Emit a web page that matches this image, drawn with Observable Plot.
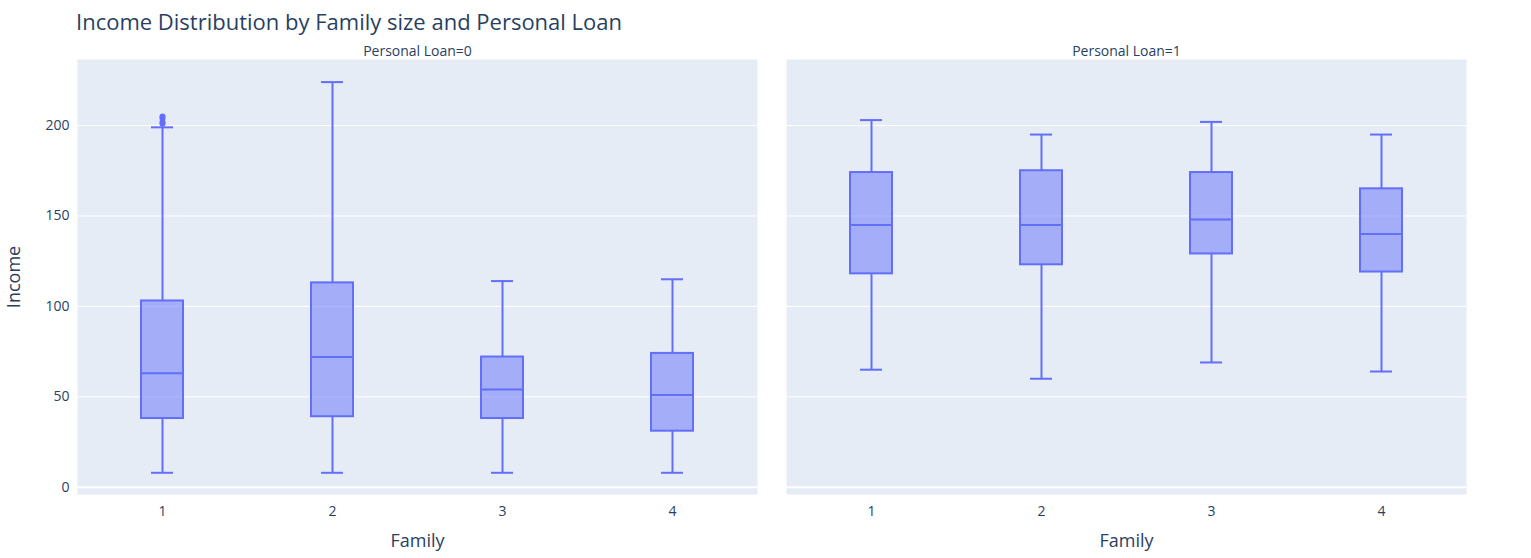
<!DOCTYPE html>
<html><head><meta charset="utf-8">
<script src="https://cdn.jsdelivr.net/npm/d3@7"></script>
<script src="https://cdn.jsdelivr.net/npm/@observablehq/plot@0.6"></script>
<style>
body{margin:0;background:#fff;font-family:"Open Sans",sans-serif}
#wrap{position:relative;width:1531px;height:558px}
#title{position:absolute;left:76px;top:6px;font-size:22px;color:#2a3f5f}
</style></head><body>
<div id="wrap"><div id="title">Income Distribution by Family size and Personal Loan</div></div>
<script>
const families = [1,2,3,4];
const loans = [0,1];
const stats0 = [[8,38,63,103,199],[8,39,72,113,224],[8,38,54,72,114],[8,31,51,74,115]];
const stats1 = [[65,118,145,174,203],[60,123,145,175,195],[69,129,148,174,202],[64,119,140,165,195]];
const outliers = [{loan:0,family:1,v:201},{loan:0,family:1,v:202},{loan:0,family:1,v:204},{loan:0,family:1,v:205}];
const yTicks = [0,50,100,150,200];

const rows = [];
[stats0, stats1].forEach((s, li) => s.forEach((d, i) => rows.push({loan: loans[li], family: families[i], lo:d[0], q1:d[1], med:d[2], q3:d[3], hi:d[4]})));
const stroke = "#636EFA";

const chart = Plot.plot({
  width: 1531, height: 558,
  marginLeft: 76, marginRight: 65, marginTop: 59, marginBottom: 64,
  style: {fontFamily: "Open Sans, sans-serif", fontSize: "14px", color: "#2a3f5f", background: "transparent", overflow: "visible"},
  fx: {domain: loans, padding: 0.041, axis: "top", label: null, tickFormat: d => `Personal Loan=${d}`, tickSize: 0, tickPadding: 4},
  x: {domain: families, padding: 0, label: null, tickSize: 0, tickPadding: 12},
  y: {domain: [-4, 236.5], ticks: yTicks, label: "Income", labelAnchor: "center", labelArrow: "none", labelOffset: 70, tickSize: 0, tickPadding: 8},
  marks: [
    Plot.frame({fill: "#E5ECF6", stroke: null}),
    Plot.gridY(yTicks, {stroke: "white", strokeOpacity: 1, strokeWidth: d => d === 0 ? 2 : 1}),
    Plot.ruleX(rows, {fx: "loan", x: "family", y1: "lo", y2: "q1", stroke, strokeWidth: 2}),
    Plot.ruleX(rows, {fx: "loan", x: "family", y1: "q3", y2: "hi", stroke, strokeWidth: 2}),
    Plot.barY(rows, {fx: "loan", x: "family", y1: "q1", y2: "q3", fill: "rgba(99,110,250,0.5)", stroke, strokeWidth: 2, insetLeft: 64, insetRight: 64}),
    Plot.tickY(rows, {fx: "loan", x: "family", y: "med", stroke, strokeWidth: 2, insetLeft: 64, insetRight: 64}),
    Plot.tickY(rows, {fx: "loan", x: "family", y: "lo", stroke, strokeWidth: 2, insetLeft: 74, insetRight: 74}),
    Plot.tickY(rows, {fx: "loan", x: "family", y: "hi", stroke, strokeWidth: 2, insetLeft: 74, insetRight: 74}),
    Plot.dot(outliers, {fx: "loan", x: "family", y: "v", r: 3, fill: stroke}),
    Plot.text(loans, {fx: d => d, text: () => "Family", frameAnchor: "bottom", dy: 52, fontSize: 18, fill: "#2a3f5f"})
  ]
});
chart.querySelectorAll('[aria-label="y-axis label"] text').forEach(t => t.style.fontSize = "18px");
document.getElementById("wrap").appendChild(chart);
</script></body></html>
